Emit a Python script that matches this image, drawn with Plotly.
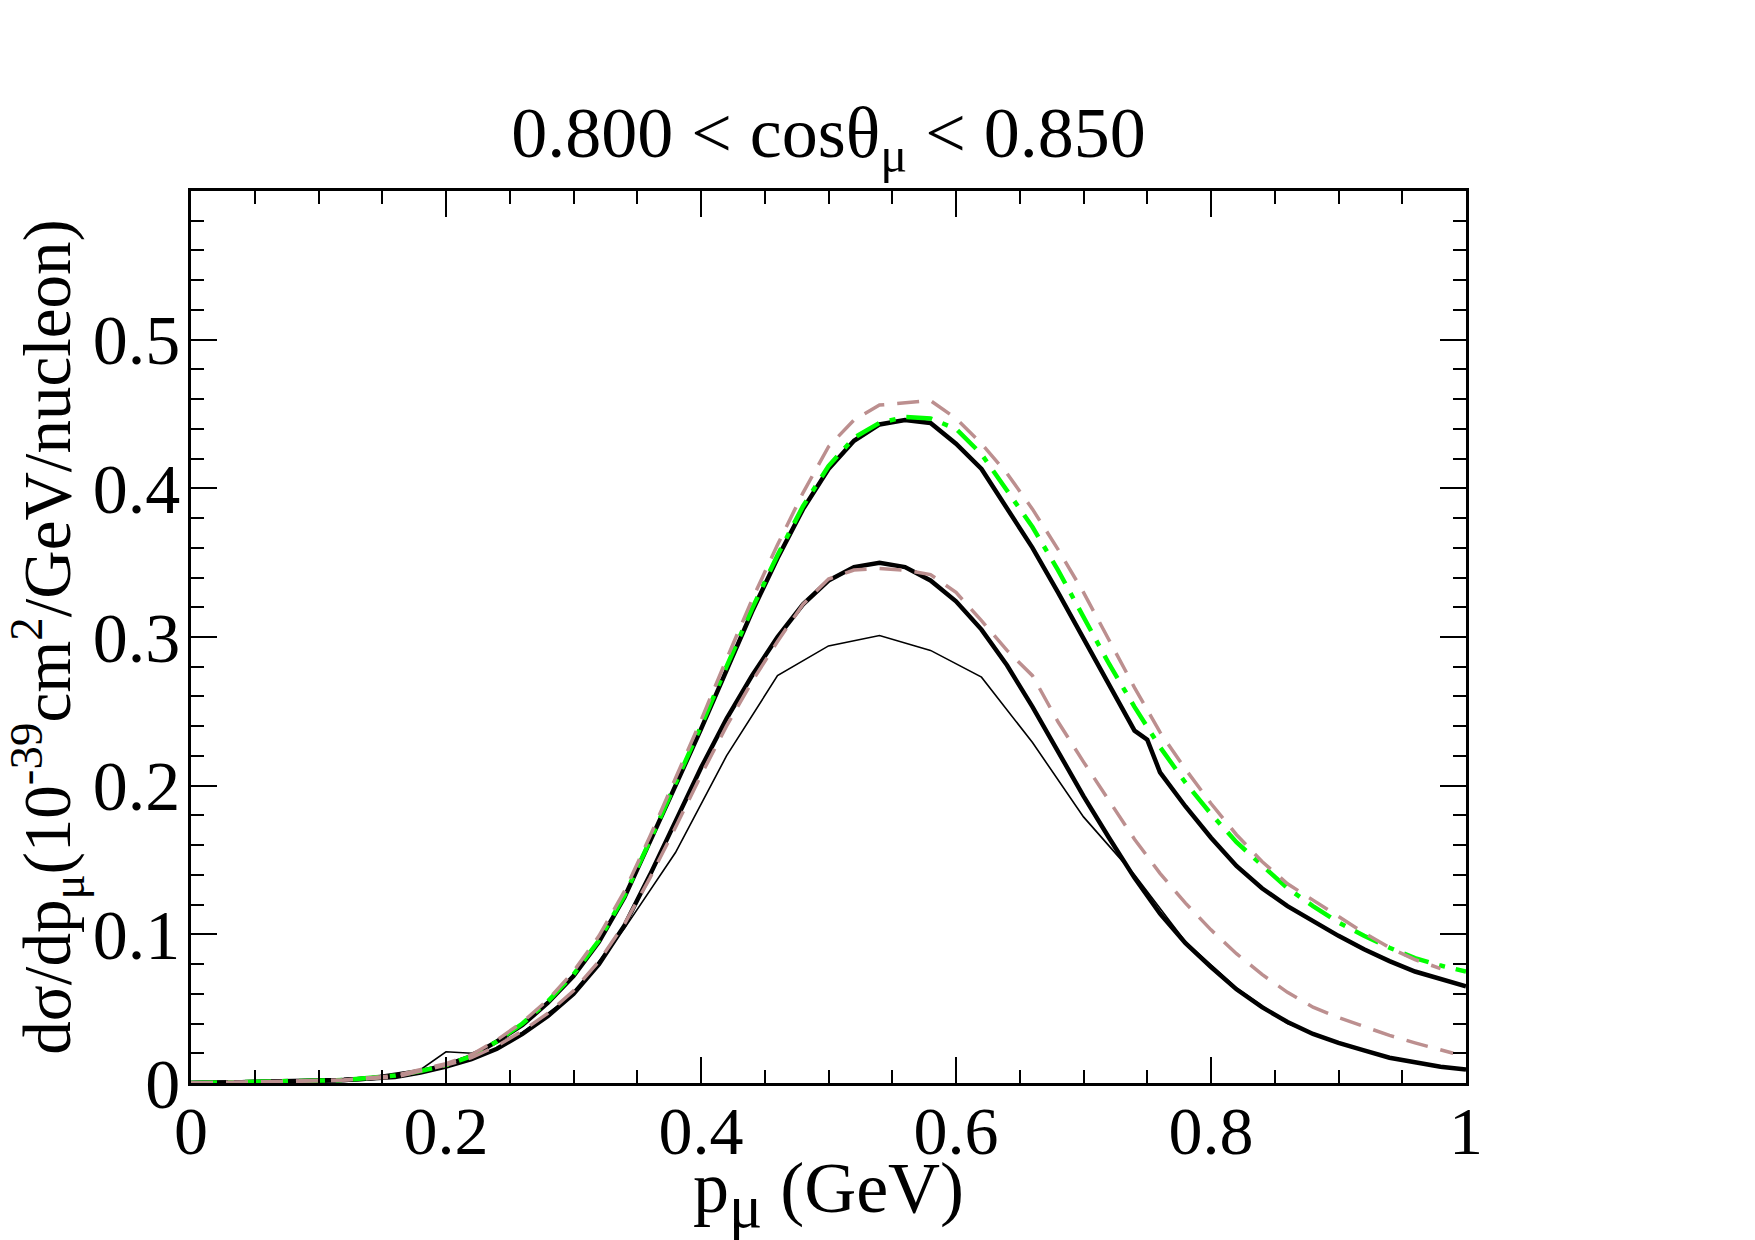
import plotly.graph_objects as go

# ---- data ----
x_a = [0.00, 0.02, 0.04, 0.06, 0.08, 0.10, 0.12, 0.14, 0.16, 0.18, 0.20, 0.22, 0.24, 0.26, 0.28,
       0.30, 0.32, 0.34, 0.36, 0.38, 0.40, 0.42, 0.44, 0.46, 0.48, 0.50, 0.52, 0.54, 0.56, 0.58,
       0.60, 0.62, 0.64, 0.66, 0.68, 0.70, 0.72, 0.74, 0.75, 0.76, 0.78, 0.80, 0.82, 0.84, 0.86,
       0.88, 0.90, 0.92, 0.94, 0.96, 0.98, 1.00]
y_a = [0.000, 0.000, 0.0005, 0.001, 0.0012, 0.0015, 0.002, 0.003, 0.005, 0.008, 0.012, 0.018, 0.028,
       0.039, 0.054, 0.072, 0.095, 0.125, 0.162, 0.200, 0.238, 0.278, 0.317, 0.353, 0.386, 0.413,
       0.432, 0.443, 0.446, 0.444, 0.430, 0.413, 0.387, 0.360, 0.330, 0.299, 0.267, 0.237, 0.231,
       0.209, 0.186, 0.165, 0.146, 0.131, 0.119, 0.109, 0.099, 0.090, 0.082, 0.075, 0.070, 0.065]

x_d = [0.00, 0.04, 0.08, 0.12, 0.16, 0.18, 0.20, 0.22, 0.24, 0.26, 0.28, 0.30, 0.32, 0.34, 0.36,
       0.38, 0.40, 0.42, 0.44, 0.46, 0.48, 0.50, 0.52, 0.54, 0.56, 0.58, 0.60, 0.62, 0.64, 0.66,
       0.68, 0.70, 0.72, 0.74, 0.76, 0.78, 0.80, 0.82, 0.84, 0.86, 0.88, 0.90, 0.92, 0.94, 0.96,
       0.98, 1.00]
y_d = [0.000, 0.0005, 0.0012, 0.002, 0.005, 0.008, 0.012, 0.018, 0.028, 0.040, 0.055, 0.073, 0.096,
       0.126, 0.163, 0.201, 0.240, 0.280, 0.319, 0.355, 0.388, 0.415, 0.434, 0.444, 0.448, 0.447,
       0.440, 0.423, 0.398, 0.374, 0.345, 0.313, 0.282, 0.253, 0.226, 0.202, 0.181, 0.162, 0.146,
       0.131, 0.119, 0.108, 0.099, 0.091, 0.084, 0.079, 0.075]

x_e = [0.00, 0.04, 0.08, 0.12, 0.16, 0.18, 0.20, 0.22, 0.24, 0.26, 0.28, 0.30, 0.32, 0.34, 0.36,
       0.38, 0.40, 0.42, 0.44, 0.46, 0.48, 0.50, 0.52, 0.54, 0.58, 0.60, 0.62, 0.64, 0.66, 0.68,
       0.70, 0.72, 0.74, 0.76, 0.78, 0.80, 0.82, 0.84, 0.86, 0.88, 0.90, 0.92, 0.94, 0.96, 0.98]
y_e = [0.000, 0.0005, 0.0012, 0.002, 0.005, 0.009, 0.013, 0.019, 0.029, 0.041, 0.056, 0.075, 0.099,
       0.129, 0.166, 0.205, 0.244, 0.285, 0.325, 0.362, 0.397, 0.428, 0.446, 0.456, 0.459, 0.447,
       0.430, 0.410, 0.386, 0.359, 0.330, 0.298, 0.266, 0.236, 0.211, 0.188, 0.167, 0.149, 0.134,
       0.123, 0.112, 0.101, 0.091, 0.083, 0.077]

x_b = [0.00, 0.04, 0.08, 0.12, 0.16, 0.18, 0.20, 0.22, 0.24, 0.26, 0.28, 0.30, 0.32, 0.34, 0.36,
       0.38, 0.40, 0.42, 0.44, 0.46, 0.48, 0.50, 0.52, 0.54, 0.56, 0.58, 0.60, 0.62, 0.64, 0.66,
       0.68, 0.70, 0.72, 0.74, 0.76, 0.78, 0.80, 0.82, 0.84, 0.86, 0.88, 0.90, 0.92, 0.94, 0.96,
       0.98, 1.00]
y_b = [0.000, 0.0003, 0.001, 0.002, 0.004, 0.007, 0.011, 0.016, 0.023, 0.033, 0.045, 0.060, 0.080,
       0.106, 0.140, 0.176, 0.212, 0.245, 0.274, 0.300, 0.322, 0.338, 0.347, 0.350, 0.347, 0.338,
       0.324, 0.305, 0.281, 0.253, 0.223, 0.193, 0.165, 0.138, 0.114, 0.094, 0.078, 0.063, 0.051,
       0.041, 0.033, 0.027, 0.022, 0.017, 0.014, 0.011, 0.009]

x_f = [0.00, 0.04, 0.08, 0.12, 0.16, 0.18, 0.20, 0.22, 0.24, 0.26, 0.28, 0.30, 0.32, 0.34, 0.36,
       0.38, 0.40, 0.42, 0.44, 0.46, 0.48, 0.50, 0.52, 0.54, 0.56, 0.58, 0.60, 0.62, 0.64, 0.66,
       0.68, 0.70, 0.72, 0.74, 0.76, 0.78, 0.80, 0.82, 0.84, 0.86, 0.88, 0.90, 0.92, 0.94, 0.96,
       0.98, 0.99]
y_f = [0.000, 0.0004, 0.001, 0.002, 0.004, 0.008, 0.012, 0.017, 0.025, 0.035, 0.047, 0.062, 0.082,
       0.107, 0.138, 0.172, 0.207, 0.240, 0.270, 0.297, 0.322, 0.339, 0.345, 0.346, 0.345, 0.342,
       0.330, 0.311, 0.291, 0.274, 0.243, 0.216, 0.190, 0.164, 0.141, 0.121, 0.103, 0.087, 0.073,
       0.061, 0.051, 0.044, 0.038, 0.032, 0.027, 0.022, 0.020]

x_c = [0.00, 0.02, 0.06, 0.10, 0.14, 0.18, 0.20, 0.22, 0.26, 0.30, 0.34, 0.38, 0.42, 0.46, 0.50,
       0.54, 0.58, 0.62, 0.66, 0.70, 0.74, 0.78, 0.82, 0.86, 0.90, 0.94, 0.98, 1.00]
y_c = [0.000, 0.0002, 0.001, 0.002, 0.004, 0.009, 0.021, 0.020, 0.034, 0.060, 0.104, 0.155, 0.220,
       0.274, 0.294, 0.301, 0.291, 0.273, 0.229, 0.179, 0.140, 0.095, 0.064, 0.040, 0.027, 0.017,
       0.011, 0.009]

y_tickvals = [0, 0.1, 0.2, 0.3, 0.4, 0.5]
y_ticktext = ["0", "0.1", "0.2", "0.3", "0.4", "0.5"]
x_tickvals = [0, 0.2, 0.4, 0.6, 0.8, 1.0]
x_ticktext = ["0", "0.2", "0.4", "0.6", "0.8", "1"]

FONT = "Liberation Serif, Times New Roman, serif"
BROWN = "#bc8f8f"
GREEN = "#00ff00"

fig = go.Figure()
fig.add_trace(go.Scatter(x=x_c, y=y_c, mode="lines", line=dict(color="black", width=1.6)))
fig.add_trace(go.Scatter(x=x_a, y=y_a, mode="lines", line=dict(color="black", width=4.5)))
fig.add_trace(go.Scatter(x=x_b, y=y_b, mode="lines", line=dict(color="black", width=4.5)))
fig.add_trace(go.Scatter(x=x_d, y=y_d, mode="lines",
                         line=dict(color=GREEN, width=4.5, dash="26px,11px,6px,11px")))
fig.add_trace(go.Scatter(x=x_e, y=y_e, mode="lines",
                         line=dict(color=BROWN, width=3.5, dash="22px,13px")))
fig.add_trace(go.Scatter(x=x_f, y=y_f, mode="lines",
                         line=dict(color=BROWN, width=3.5, dash="22px,13px")))

axis_common = dict(
    showline=True, linecolor="black", linewidth=2.5, mirror="allticks",
    ticks="inside", ticklen=26, tickwidth=2, tickcolor="black",
    showgrid=False, zeroline=False, automargin=False,
)

fig.update_layout(
    width=1755, height=1240,
    margin=dict(l=191, r=289, t=191, b=157, autoexpand=False),
    paper_bgcolor="white", plot_bgcolor="white",
    showlegend=False,
    font=dict(family=FONT, color="black"),
    title=dict(text="0.800 &lt; cosθ<sub>μ</sub> &lt; 0.850",
               font=dict(family=FONT, size=72, color="black"),
               x=0.5, xref="paper", xanchor="center",
               y=0.894, yref="container", yanchor="middle", automargin=False),
    xaxis=dict(range=[0, 1], tickvals=x_tickvals, ticktext=x_ticktext,
               minor=dict(dtick=0.05, tick0=0, ticks="inside", ticklen=13, tickwidth=2, tickcolor="black"),
               title=dict(text="p<sub><span style='font-size:62px'>μ</span></sub> (GeV)",
                          font=dict(family=FONT, size=72, color="black"),
                          standoff=11),
               tickfont=dict(family=FONT, size=68, color="black"),
               ticklabelstandoff=-13,
               **axis_common),
    yaxis=dict(range=[0, 0.6], tickvals=y_tickvals, ticktext=y_ticktext,
               minor=dict(dtick=0.02, tick0=0, ticks="inside", ticklen=13, tickwidth=2, tickcolor="black"),
               title=dict(text="dσ/dp<sub>μ</sub>(10<sup>-39</sup>cm<sup>2</sup>/GeV/nucleon)",
                          font=dict(family=FONT, size=67, color="black"), standoff=2),
               tickfont=dict(family=FONT, size=70, color="black"),
               ticklabelstandoff=-6,
               **axis_common),
)

fig.write_html("out.html")
